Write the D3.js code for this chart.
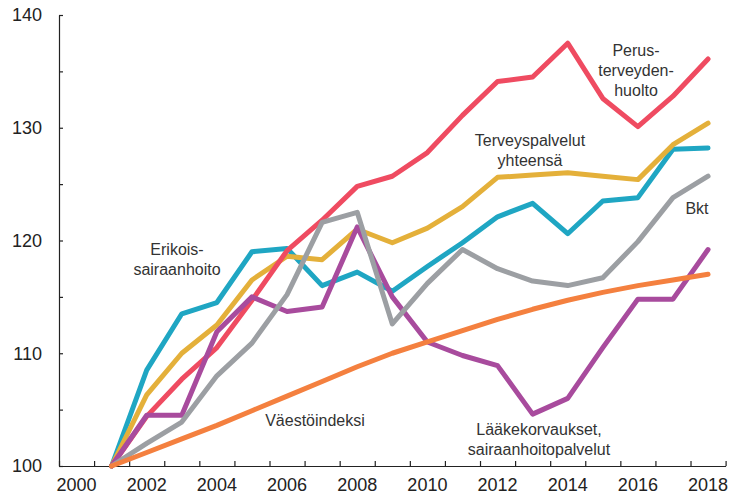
<!DOCTYPE html>
<html lang="fi">
<head>
<meta charset="UTF-8">
<title>Terveysmenot</title>
<script src="https://cdnjs.cloudflare.com/ajax/libs/d3/7.9.0/d3.min.js"></script>
<style>
    body { margin: 0; background: #fff; }
    svg { display: block; font-family: "Liberation Sans", Arial, sans-serif; }
    .axis path, .axis line { stroke: #222; stroke-width: 1.2; }
    .axis text { font-size: 18px; fill: #222; }
    .label { font-size: 16px; fill: #333; text-anchor: middle; }
    .series { fill: none; stroke-width: 5; stroke-linejoin: round; stroke-linecap: round; }
</style>
</head>
<body>
<svg id="chart" width="730" height="497"></svg>
<script>
    // vuodet 2001..2018, indeksi 2001 = 100
    const years = d3.range(2001, 2019);
    const perusterveydenhuolto = [100, 104.4, 107.7, 110.5, 114.7, 119.1, 121.8, 124.8, 125.7, 127.8, 131.1, 134.1, 134.5, 137.5, 132.6, 130.1, 132.8, 136.1];
    const terveyspalvelut = [100, 106.3, 110.0, 112.5, 116.5, 118.6, 118.3, 121.0, 119.8, 121.1, 123.0, 125.6, 125.8, 126.0, 125.7, 125.4, 128.5, 130.4];
    const erikoissairaanhoito = [100, 108.5, 113.5, 114.5, 119.0, 119.3, 116.0, 117.2, 115.5, 117.7, 119.8, 122.1, 123.3, 120.6, 123.5, 123.8, 128.1, 128.2];
    const laakekorvaukset = [100, 104.5, 104.5, 111.9, 115.0, 113.7, 114.1, 121.2, 115.0, 111.0, 109.8, 108.9, 104.6, 106.0, 110.5, 114.8, 114.8, 119.2];
    const bkt = [100, 102.0, 103.9, 108.0, 110.9, 115.2, 121.6, 122.5, 112.6, 116.2, 119.2, 117.5, 116.4, 116.0, 116.7, 119.9, 123.8, 125.7];
    const vaestoindeksi = [100, 101.2, 102.4, 103.6, 104.9, 106.2, 107.5, 108.8, 110.0, 111.0, 112.0, 113.0, 113.9, 114.7, 115.4, 116.0, 116.5, 117.0];

    const axisYears = d3.range(2000, 2019);
    const xLabels = d3.range(2000, 2019, 2);
    const yTicks = d3.range(100, 141, 5);

    // piirtojärjestys: alimmainen ensin
    const series = [
        { values: erikoissairaanhoito, color: '#1fa6c3' },
        { values: terveyspalvelut, color: '#e4b03a' },
        { values: perusterveydenhuolto, color: '#ef4b61' },
        { values: laakekorvaukset, color: '#a84b9d' },
        { values: bkt, color: '#9c9fa3' },
        { values: vaestoindeksi, color: '#f4803f' },
    ];

    const labels = [
        { lines: ['Perus-', 'terveyden-', 'huolto'], x: 636, y: 56 },
        { lines: ['Terveyspalvelut', 'yhteensä'], x: 530, y: 146 },
        { lines: ['Bkt'], x: 697, y: 214 },
        { lines: ['Erikois-', 'sairaanhoito'], x: 177, y: 255 },
        { lines: ['Väestöindeksi'], x: 315, y: 426 },
        { lines: ['Lääkekorvaukset,', 'sairaanhoitopalvelut'], x: 539, y: 435 },
    ];

    const svg = d3.select('#chart');
    const plotLeft = 59, plotRight = 725.6, plotTop = 15, plotBottom = 466;

    const x = d3.scaleBand().domain(axisYears).range([plotLeft, plotRight]);
    const xEdges = d3.scaleLinear().domain([2000, 2019]).range([plotLeft, plotRight]);
    const y = d3.scaleLinear().domain([100, 140]).range([plotBottom, plotTop]);

    // y-akseli
    svg.append('g')
        .attr('class', 'axis')
        .attr('transform', `translate(${plotLeft},0)`)
        .call(d3.axisLeft(y).tickValues(yTicks).tickSize(-4).tickSizeOuter(0).tickPadding(17)
            .tickFormat(d => d % 10 === 0 ? d : ''));

    // x-akseli: viivat vuosien rajoilla, tekstit keskellä
    svg.append('g')
        .attr('class', 'axis')
        .attr('transform', `translate(0,${plotBottom})`)
        .call(d3.axisBottom(xEdges).tickValues(d3.range(2000, 2020)).tickSize(-5).tickSizeOuter(0).tickFormat(''));

    const xAxisText = svg.append('g')
        .attr('class', 'axis')
        .attr('transform', `translate(0,${plotBottom})`)
        .call(d3.axisBottom(x).tickValues(xLabels).tickSize(0).tickPadding(12));
    xAxisText.select('.domain').remove();

    const line = d3.line()
        .x((d, i) => x(years[i]) + x.bandwidth() / 2)
        .y(d => y(d));

    svg.selectAll('path.series')
        .data(series)
        .enter().append('path')
        .attr('class', 'series')
        .attr('stroke', d => d.color)
        .attr('d', d => line(d.values));

    labels.forEach(l => {
        const t = svg.append('text').attr('class', 'label').attr('x', l.x).attr('y', l.y);
        l.lines.forEach((s, i) => {
            t.append('tspan').attr('x', l.x).attr('dy', i === 0 ? 0 : 20).text(s);
        });
    });
</script>
</body>
</html>
